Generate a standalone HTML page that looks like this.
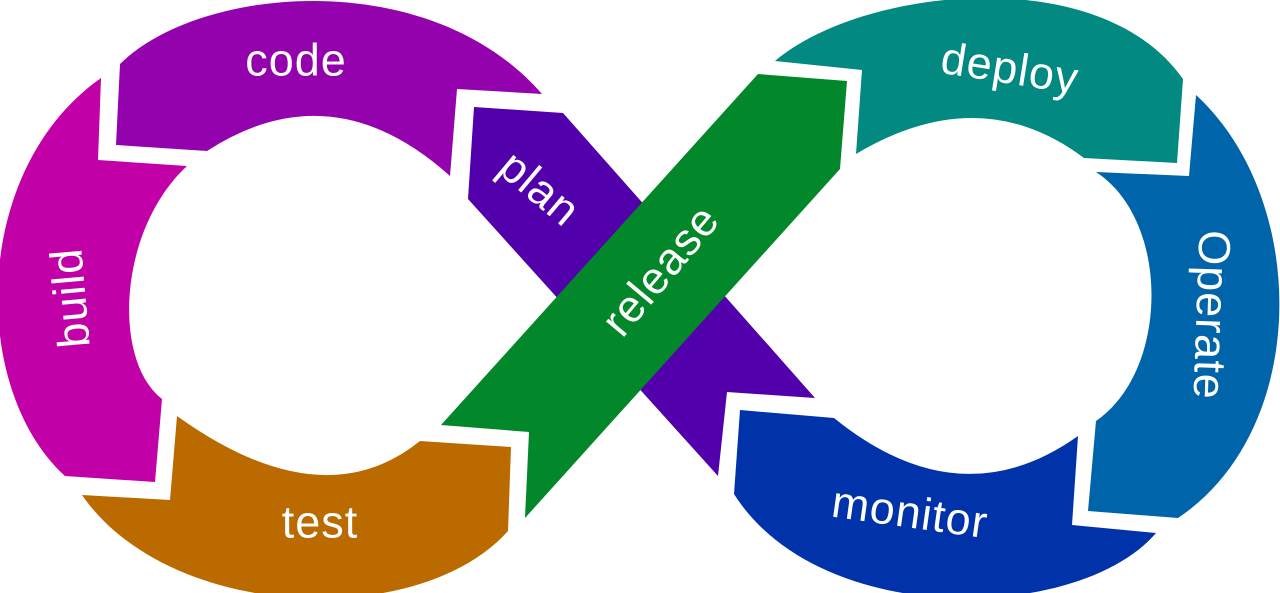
<!DOCTYPE html>
<html><head><meta charset="utf-8"><style>
html,body{margin:0;padding:0;background:#fff;width:1280px;height:593px;overflow:hidden}
svg{display:block}
text{font-family:"Liberation Sans",sans-serif;fill:#fff;font-size:45px;letter-spacing:1px;text-anchor:middle;dominant-baseline:central}
</style></head><body>
<svg width="1280" height="593" viewBox="0 0 1280 593">
<!-- code -->
<path fill="#9402ae" d="M120,64 C200,-15 430,-35 542,94 L457,89 L450,176 Q332,70 207,151 L116,145 Z"/>
<!-- build -->
<path fill="#c200a8" d="M101,78 C-30,170 -30,390 65,476 L155,482 L162,399 C112,360 118,230 187,166 L98,160 Z"/>
<!-- test -->
<path fill="#bb6a00" d="M82,495 C170,622 420,630 508,531 L511,447 L420,441 Q322,520 177,416 L170,500 Z"/>
<!-- plan -->
<polygon fill="#5200ac" points="474,107 563,113 815,398 727,392 718,476 468,199"/>
<!-- release -->
<polygon fill="#02882a" points="758,74 847,81 840,169 525,518 529,432 441,425"/>
<!-- deploy -->
<path fill="#028a82" d="M775,61 C860,-12 1100,-40 1183,79 L1177,163 L1084,158 Q980,80 856,154 L862,70 Z"/>
<!-- operate -->
<path fill="#0064aa" d="M1196,95 C1310,200 1310,430 1178,518 L1088,511 L1096,421 C1170,370 1170,220 1096,172 L1189,176 Z"/>
<!-- monitor -->
<path fill="#0033aa" d="M1156,533 C1080,622 820,630 734,494 L740,410 L834,418 Q960,520 1078,436 L1072,525 Z"/>

<text x="296" y="60">code</text>
<text x="320" y="522">test</text>
<text transform="translate(70,298) rotate(-95)">build</text>
<text transform="translate(540,188) rotate(40)">plan</text>
<text transform="translate(660,270) rotate(-50)">release</text>
<text transform="translate(1010,68) rotate(9)">deploy</text>
<text transform="translate(1212,315) rotate(92)">Operate</text>
<text transform="translate(910,512) rotate(8)">monitor</text>
</svg>
</body></html>
